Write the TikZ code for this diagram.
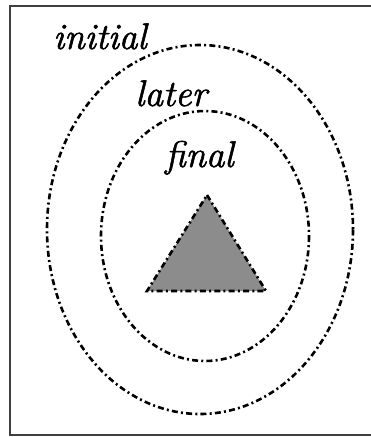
\documentclass[tikz,border=0pt]{standalone}
\usepackage{fontspec}
\newfontfamily\labfont{Latin Modern Roman}[FakeBold=1.6]
\begin{document}
\begin{tikzpicture}[x=1pt,y=-1pt,
  dd/.style={line width=2.6pt, dash pattern=on 6pt off 3.2pt on 2pt off 3.2pt},
  lab/.style={font=\labfont\itshape\fontsize{37}{37}\selectfont, inner sep=0pt, anchor=base west}]
\useasboundingbox (0,0) rectangle (371,437);
\draw[line width=1.5pt, black!75] (371,6) -- (10,6) -- (10,435) -- (371,435);
\draw[dd] (200,229.5) ellipse [x radius=153, y radius=184.5];
\draw[dd] (205,236) ellipse [x radius=104, y radius=125];
\draw[dd, fill=black!45] (207,195) -- (266,291) -- (147,291) -- cycle;
\node[lab] (initial) at (53,49) {initial};
\node[lab] (later) at (135,106) {later};
\node[lab] (final) at (165,167) {final};
\end{tikzpicture}
\end{document}
